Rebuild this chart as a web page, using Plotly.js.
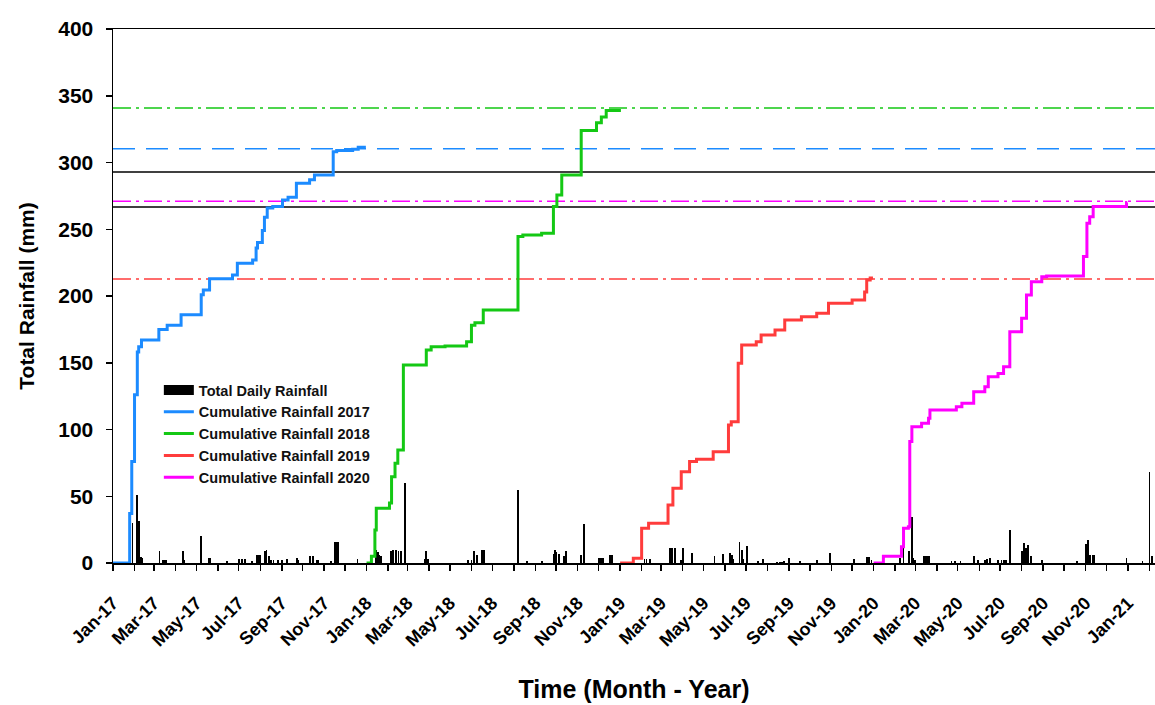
<!DOCTYPE html>
<html>
<head>
<meta charset="utf-8">
<script src="https://cdn.plot.ly/plotly-3.0.1.min.js"></script>
<style>html,body{margin:0;padding:0;background:#fff;}#chart{width:1155px;height:705px;}</style>
</head>
<body>
<div id="chart"></div>
<script>
// ---------- DATA ----------
const rainDates = [
 '2017-01-29','2017-02-04','2017-02-07','2017-02-08','2017-02-10','2017-02-12','2017-03-09','2017-03-14','2017-03-17','2017-03-19',
 '2017-04-12','2017-04-14','2017-05-08','2017-05-19','2017-05-21','2017-06-14','2017-07-01','2017-07-06','2017-07-10','2017-07-20',
 '2017-07-27','2017-07-30','2017-08-01','2017-08-08','2017-08-10','2017-08-13','2017-08-16','2017-08-20','2017-08-27','2017-09-01',
 '2017-09-08','2017-09-23','2017-09-25','2017-10-12','2017-10-16','2017-10-21','2017-10-23','2017-11-11','2017-11-17','2017-11-19',
 '2017-11-21','2017-12-19',
 '2018-01-15','2018-01-17','2018-01-19','2018-01-22','2018-02-05','2018-02-08','2018-02-12','2018-02-16','2018-02-19','2018-02-25',
 '2018-03-26','2018-03-28','2018-03-30','2018-05-27','2018-06-01','2018-06-05','2018-06-09','2018-06-16','2018-06-19','2018-08-07',
 '2018-08-20','2018-09-10','2018-09-27','2018-09-29','2018-10-01','2018-10-05','2018-10-12','2018-10-15','2018-11-06','2018-11-10',
 '2018-12-02','2018-12-05','2018-12-07','2018-12-17','2018-12-20',
 '2019-02-05','2019-02-08','2019-02-13','2019-03-14','2019-03-17','2019-03-21','2019-03-30','2019-04-02','2019-04-14','2019-05-17',
 '2019-05-29','2019-06-08','2019-06-11','2019-06-13','2019-06-22','2019-06-25','2019-06-27','2019-07-03','2019-07-19','2019-07-26',
 '2019-08-15','2019-08-19','2019-08-22','2019-08-25','2019-09-01','2019-09-17','2019-10-11','2019-10-30','2019-12-04','2019-12-22',
 '2019-12-25','2019-12-29',
 '2020-02-08','2020-02-13','2020-02-21','2020-02-25','2020-02-27','2020-02-29','2020-03-13','2020-03-16','2020-03-19','2020-03-21',
 '2020-04-22','2020-04-27','2020-05-05','2020-05-24','2020-05-30','2020-06-09','2020-06-12','2020-06-16','2020-06-28','2020-07-03',
 '2020-07-07','2020-07-10','2020-07-15','2020-08-01','2020-08-04','2020-08-07','2020-08-10','2020-08-15','2020-08-30','2020-10-20',
 '2020-11-02','2020-11-05','2020-11-08','2020-11-11','2020-11-13','2020-12-30','2021-01-22','2021-02-01','2021-02-05'
];
const rainValues = [
 30,51,31.7,4.5,4.3,4,9,2,2,2,
 9,2,20.5,4,4,1.5,2.7,2.7,2.7,1.5,
 5.7,5.7,5.7,8.7,10,5,2.5,2.5,2,2,
 3,4,2,5,5,2,2,1.5,16,16,
 16,3,
 9.7,8,6,5,9,9.5,9.7,9,9,59.7,
 3,8.7,3,2,2,8.7,5.7,10,10,55,
 1.5,1.5,7,10,8,7,5,8.7,5.7,29.5,
 4,4,4,5.7,5.7,
 3.3,3.3,3.3,11.5,11.5,11.5,2.5,11.5,7.5,5.5,
 6.7,7.5,6,3,16,10,3,12.5,1.5,3,
 1,1,1,1.5,3.7,1.3,2.5,7.5,3,4.5,
 4.5,2.5,
 4,12,9.2,34.7,4,2,5,5,5,5,
 1.5,1.5,1.5,5,2,2,3,3.7,2,2.5,
 2.5,2.5,24.7,9,15,11,13.5,5,2.5,1.3,
 14,17,6,6,6,4,1.5,68.4,5
];

const cum2017Dates = ['2017-01-01','2017-01-25','2017-01-28','2017-02-01','2017-02-05','2017-02-07','2017-02-11','2017-03-08','2017-03-20','2017-04-09',
 '2017-05-08','2017-05-11','2017-05-20','2017-06-22','2017-06-29','2017-07-21','2017-07-26','2017-07-28','2017-08-04','2017-08-07',
 '2017-08-11','2017-08-19','2017-09-02','2017-09-10','2017-09-22','2017-10-11','2017-10-18','2017-11-14','2017-11-19','2017-12-12',
 '2017-12-20','2017-12-31'];
const cum2017Values = [0,37,76,126,158,162,167,175,178,186,
 201,204.5,213,215.7,224.5,227,236,240,249,259,
 266,267,272,274,284.5,287,290.6,308,309,310,
 311.4,311.4];

const cum2018Dates = ['2018-01-01','2018-01-08','2018-01-13','2018-01-15','2018-02-03','2018-02-06','2018-02-11','2018-02-15','2018-02-23','2018-03-28',
 '2018-04-04','2018-04-24','2018-05-25','2018-06-01','2018-06-06','2018-06-18','2018-08-07','2018-08-14','2018-09-10','2018-09-27',
 '2018-10-02','2018-10-09','2018-11-06','2018-11-28','2018-12-05','2018-12-12','2018-12-31'];
const cum2018Values = [0,5,24.7,41,45,64.7,74.7,84.6,148.3,159.6,
 162,162.5,165.8,178,180,189.5,244.5,245.7,247,267,
 275.6,290.6,324,329.8,334,339,340];

const cum2019Dates = ['2019-01-01','2019-01-20','2019-02-01','2019-02-11','2019-03-11','2019-03-18','2019-03-30','2019-04-11','2019-04-21','2019-05-15',
 '2019-06-06','2019-06-10','2019-06-20','2019-06-25','2019-07-16','2019-07-23','2019-08-12','2019-08-26','2019-09-19','2019-10-11',
 '2019-10-28','2019-12-01','2019-12-19','2019-12-22','2019-12-27','2019-12-31'];
const cum2019Values = [0,3.5,26,29.7,43.4,56,68.4,76,77.7,83.4,
 103.4,105.8,149.6,163.3,165.8,170.8,174.5,182,184.5,187,
 194.5,197,203,212,213.5,213.5];

const cum2020Dates = ['2020-01-01','2020-01-15','2020-02-10','2020-02-13','2020-02-20','2020-02-22','2020-02-25','2020-03-10','2020-03-20','2020-03-22',
 '2020-04-29','2020-05-07','2020-05-24','2020-06-09','2020-06-14','2020-06-28','2020-07-06','2020-07-15','2020-08-01','2020-08-08',
 '2020-08-15','2020-08-30','2020-09-06','2020-10-29','2020-11-03','2020-11-07','2020-11-12','2020-12-30','2020-12-31'];
const cum2020Values = [0,5,12.2,26,27.2,91,102,104.6,108.4,114.6,
 117,119.6,128.3,132,139.6,142,147,173.3,183.3,200.7,
 210.7,214.5,215,229.5,254.5,259.4,267,270,270];

// reference levels (mm)
const refLevels = [340.8, 310.3, 292.8, 271.0, 266.6, 212.8];

const seriesNames = ['Cumulative Rainfall 2017','Cumulative Rainfall 2018','Cumulative Rainfall 2019','Cumulative Rainfall 2020'];

// ---------- STYLES ----------
const colors = ['#1C8BFF','#14C814','#FF3C3C','#FF00FF'];
const refStyle = [
  {color:'#14C814', dash:'18px,5px,3px,5px'},
  {color:'#1C8BFF', dash:'22px,11px'},
  {color:'#000000', dash:'solid'},
  {color:'#FF00FF', dash:'18px,5px,3px,5px'},
  {color:'#000000', dash:'solid'},
  {color:'#FF3C3C', dash:'18px,5px,3px,5px'}
];

const FONT = 'Liberation Sans, Arial, sans-serif';
const DAY = 86400000;

const traces = [];
traces.push({
  type:'bar', x: rainDates, y: rainValues, width: 2.6*DAY,
  marker:{color:'#000', line:{width:0}}, name:'Total Daily Rainfall',
  legendgroup:'rain', showlegend:false, hoverinfo:'x+y'
});
// legend swatch for the bars (wide black block like the original)
traces.push({
  type:'scatter', mode:'lines', x:[null], y:[null], name:'Total Daily Rainfall',
  legendgroup:'rain', line:{color:'#000', width:14}
});
const cumDates = [cum2017Dates, cum2018Dates, cum2019Dates, cum2020Dates];
const cumValues = [cum2017Values, cum2018Values, cum2019Values, cum2020Values];
for (let i=0;i<4;i++){
  traces.push({
    type:'scatter', mode:'lines', x: cumDates[i], y: cumValues[i], name: seriesNames[i],
    line:{color:colors[i], width:3, shape:'hv'}
  });
}

const shapes = refLevels.map((v,i)=>({
  type:'line', xref:'paper', x0:0, x1:1, yref:'y', y0:v, y1:v,
  line:{color:refStyle[i].color, width:1.5, dash:refStyle[i].dash}, layer:'below'
}));

const layout = {
  width:1155, height:705,
  margin:{l:113, r:0, t:29, b:142},
  paper_bgcolor:'#fff', plot_bgcolor:'#fff',
  font:{family:FONT, color:'#000'},
  showlegend:true,
  legend:{x:0.044, y:0.354, xanchor:'left', yanchor:'top', bgcolor:'rgba(0,0,0,0)',
          font:{family:FONT, size:14.5, weight:'bold', color:'#111'}, tracegroupgap:0},
  bargap:0,
  shapes: shapes,
  xaxis:{
    type:'date', range:['2017-01-01','2021-02-09'],
    tick0:'2017-01-01', dtick:'M2', tickformat:'%b-%y', tickangle:-45,
    ticks:'outside', ticklen:6, tickwidth:1.5, tickcolor:'#000', ticklabelstandoff:15,
    minor:{dtick:'M1', ticks:'outside', ticklen:6, tickwidth:1.5, tickcolor:'#000'},
    showgrid:false, zeroline:false, showline:true, linecolor:'#000', linewidth:1.5, mirror:true,
    tickfont:{family:FONT, size:18, weight:'bold'},
    title:{text:'Time (Month - Year)', font:{family:FONT, size:25, weight:'bold'}, standoff:31}
  },
  yaxis:{
    range:[0,400], dtick:50, ticks:'outside', ticklen:6, tickwidth:1.5, tickcolor:'#000', ticklabelstandoff:8,
    showgrid:false, zeroline:false, showline:true, linecolor:'#000', linewidth:1.5,
    tickfont:{family:FONT, size:21, weight:'bold'},
    title:{text:'Total Rainfall (mm)', font:{family:FONT, size:21, weight:'bold'}, standoff:18}
  }
};

Plotly.newPlot('chart', traces, layout, {displayModeBar:false, staticPlot:true});
</script>
</body>
</html>
